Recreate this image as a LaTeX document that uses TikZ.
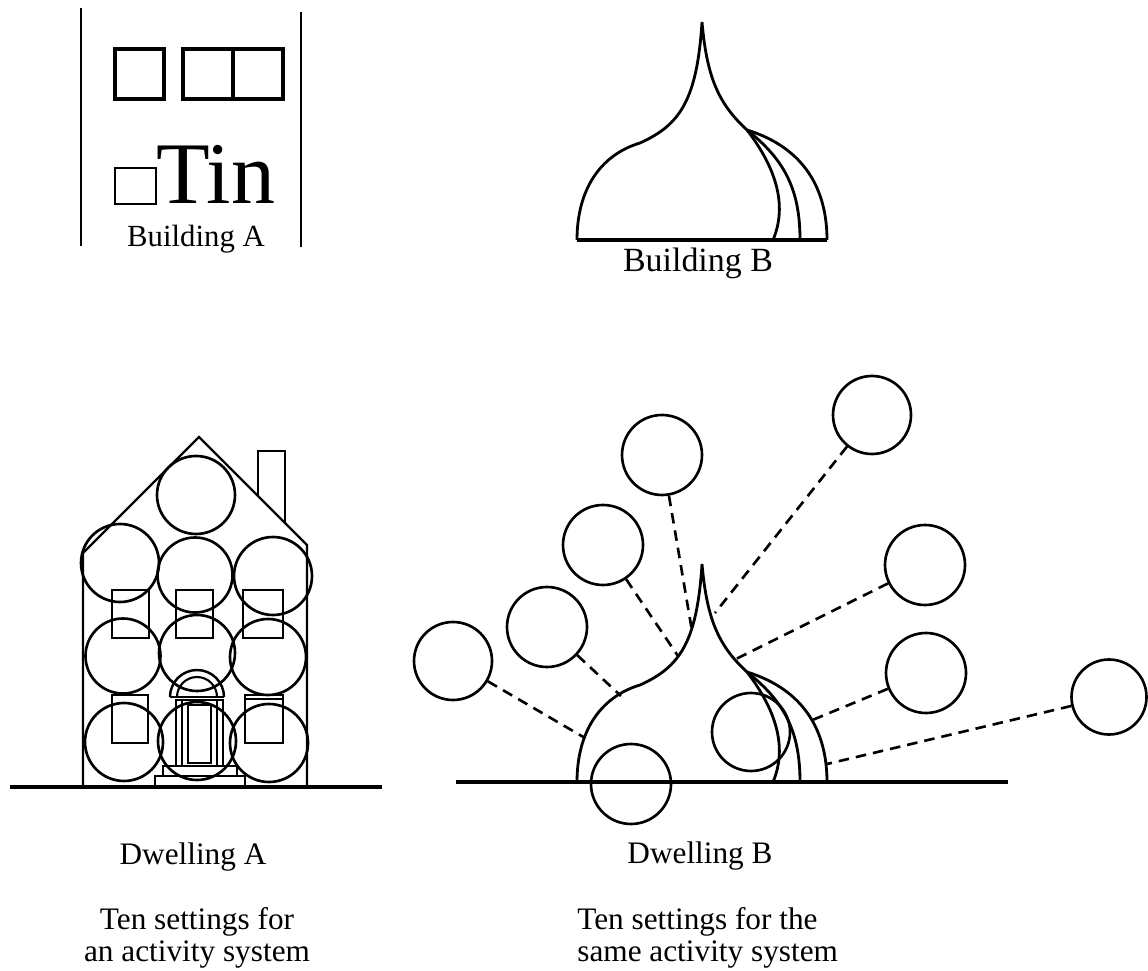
\documentclass[tikz,border=0pt]{standalone}
\usepackage{fontspec}
\setmainfont{Liberation Serif}
\usetikzlibrary{calc}

\tikzset{
	setting/.style={circle, draw, line width=1.5pt, minimum size=1.56cm, inner sep=0pt},
	link/.style={line width=1.5pt, dash pattern=on 6pt off 4pt},
	caption/.style={inner sep=0pt, font=\fontsize{17.8}{18.2}\selectfont}
}

% onion dome, shifted down by #1 cm
\def\onion(#1){
	\begin{scope}[yshift=#1cm, line width=1.6pt]
		\draw (11.54,14.60) .. controls (11.54,15.60) and (12.00,16.30) .. (12.80,16.54)
			.. controls (13.60,16.90) and (13.94,17.40) .. (14.04,18.96)
			.. controls (14.14,17.80) and (14.40,17.30) .. (14.94,16.80);
		\draw (14.94,16.80) .. controls (15.40,16.20) and (15.80,15.40) .. (15.46,14.60);
		\draw (14.94,16.80) .. controls (15.70,16.20) and (16.00,15.60) .. (16.00,14.60);
		\draw (14.94,16.80) .. controls (16.10,16.44) and (16.54,15.60) .. (16.54,14.60);
	\end{scope}
}

\begin{document}
\begin{tikzpicture}
			\useasboundingbox (0,0) rectangle (22.96,19.40);
			
			%%%%% BUILDING A %%%%%
			\draw[line width=1.4pt] (1.62,19.24) -- (1.62,14.48);
			\draw[line width=1.4pt] (6.02,19.16) -- (6.02,14.46);
			
			\draw[line width=2pt] (2.30,18.42) rectangle (3.28,17.42);
			\draw[line width=2pt] (3.66,18.42) rectangle (4.66,17.42);
			\draw[line width=2pt] (4.66,18.42) rectangle (5.66,17.42);
			\draw[line width=1.6pt] (2.30,16.04) rectangle (3.12,15.32);
			\node[anchor=base west, inner sep=0pt, font=\fontsize{50}{50}\selectfont] (tin) at (3.12,15.32) {Tin};
			
			\node[anchor=base, inner sep=0pt, font=\fontsize{17.5}{20}\selectfont] (bldA) at (3.92,14.46) {Building A};
			
			%%%%% BUILDING B %%%%%
			\onion(0)
			\draw[line width=2pt] (11.54,14.60) -- (16.54,14.60);
			\node[anchor=base, inner sep=0pt, font=\fontsize{19.3}{22}\selectfont] (bldB) at (13.96,13.96) {Building B};
			
			%%%%% DWELLING A %%%%%
			\draw[line width=2pt] (0.20,3.66) -- (7.64,3.66);
			\draw[line width=1.3pt] (1.66,3.70) -- (1.66,8.34) -- (3.98,10.66) -- (6.14,8.50) -- (6.14,3.70);
			\draw[line width=1.3pt] (5.16,9.48) -- (5.16,10.38) -- (5.70,10.38) -- (5.70,8.94);
			
			% windows
			\draw[line width=1.4pt] (2.24,7.60) rectangle (2.98,6.64);
			\draw[line width=1.4pt] (3.52,7.60) rectangle (4.26,6.64);
			\draw[line width=1.4pt] (4.86,7.60) rectangle (5.66,6.64);
			\draw[line width=1.4pt] (2.24,5.50) rectangle (2.96,4.54);
			\draw[line width=1.4pt] (4.90,5.50) rectangle (5.66,4.54);
			\draw[line width=1pt] (4.90,5.42) -- (5.66,5.42);
			
			% door
			\draw[line width=1.4pt] (3.40,5.46) arc (180:0:0.54);
			\draw[line width=1.2pt] (3.54,5.46) arc (180:0:0.40);
			\draw[line width=1.4pt] (3.40,5.46) -- (4.48,5.46);
			\draw[line width=1.4pt] (3.52,4.08) rectangle (4.46,5.40);
			\draw[line width=1.2pt] (3.64,4.08) -- (3.64,5.40);
			\draw[line width=1.2pt] (4.34,4.08) -- (4.34,5.40);
			\draw[line width=1.2pt] (3.76,4.14) rectangle (4.22,5.30);
			\draw[line width=1.2pt] (3.26,3.88) rectangle (4.74,4.08);
			\draw[line width=1.2pt] (3.10,3.68) rectangle (4.90,3.88);
			
			% settings inside the house
			\node[setting] (h1) at (3.92,9.50) {};
			\node[setting] (h2) at (2.40,8.14) {};
			\node[setting, minimum size=1.50cm] (h3) at (3.90,7.90) {};
			\node[setting] (h4) at (5.46,7.88) {};
			\node[setting, minimum size=1.50cm] (h5) at (2.46,6.28) {};
			\node[setting, minimum size=1.52cm] (h6) at (3.94,6.34) {};
			\node[setting, minimum size=1.52cm] (h7) at (5.36,6.26) {};
			\node[setting] (h8) at (2.48,4.56) {};
			\node[setting] (h9) at (3.94,4.58) {};
			\node[setting] (h10) at (5.38,4.54) {};
			
			\node[caption, anchor=base] (dwA) at (3.86,2.12) {Dwelling A};
			\node[caption, anchor=north, align=center] (sysA) at (3.94,1.25) {Ten settings for\\an activity system};
			
			%%%%% DWELLING B %%%%%
			\onion(-10.84)
			\draw[line width=2pt] (9.12,3.76) -- (20.16,3.76);
			
			\coordinate (e1) at (11.70,4.64);
			\coordinate (e2) at (12.42,5.48);
			\coordinate (e3) at (13.56,6.28);
			\coordinate (e4) at (13.84,6.78);
			\coordinate (e5) at (14.30,7.14);
			\coordinate (e6) at (14.72,6.22);
			\coordinate (e7) at (16.20,4.98);
			\coordinate (e8) at (16.54,4.12);
			
			\node[setting] (s1) at (9.06,6.18) {};
			\node[setting, minimum size=1.60cm] (s2) at (10.94,6.86) {};
			\node[setting, minimum size=1.60cm] (s3) at (12.06,8.50) {};
			\node[setting, minimum size=1.60cm] (s4) at (13.24,10.30) {};
			\node[setting] (s5) at (17.44,11.10) {};
			\node[setting, minimum size=1.60cm] (s6) at (18.50,8.10) {};
			\node[setting, minimum size=1.60cm] (s7) at (18.52,5.94) {};
			\node[setting, minimum size=1.50cm] (s8) at (22.18,5.46) {};
			\node[setting] (s9) at (15.02,4.76) {};
			\node[setting, minimum size=1.60cm] (s10) at (12.62,3.72) {};
			
			\draw[link] (s1) -- (e1);
			\draw[link] (s2) -- (e2);
			\draw[link] (s3) -- (e3);
			\draw[link] (s4) -- (e4);
			\draw[link] (s5) -- (e5);
			\draw[link] (s6) -- (e6);
			\draw[link] (s7) -- (e7);
			\draw[link] (s8) -- (e8);
			
			\node[caption, anchor=base] (dwB) at (14.00,2.14) {Dwelling B};
			\node[caption, anchor=north west, align=left] (sysB) at (11.54,1.25) {Ten settings for the\\same activity system};
			
\end{tikzpicture}
\end{document}
